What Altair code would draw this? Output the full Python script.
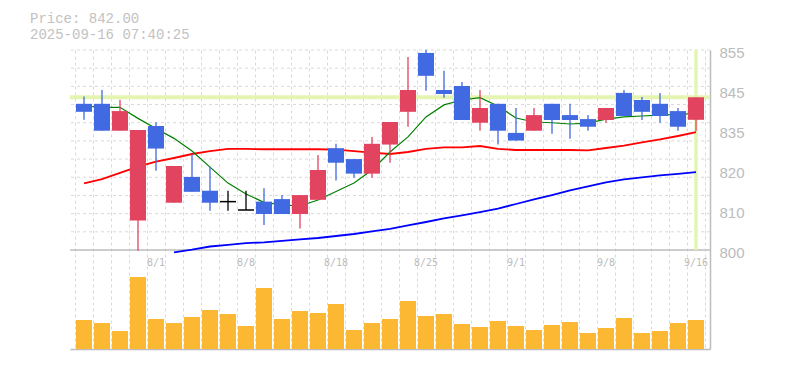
import altair as alt
import pandas as pd

# ---------------- data ----------------
header_lines = ["Price: 842.00", "2025-09-16 07:40:25"]
price_now = 842.0

dates = ["7/28", "7/29", "7/30", "7/31", "8/1", "8/4", "8/5", "8/6", "8/7", "8/8",
         "8/12", "8/13", "8/14", "8/15", "8/18", "8/19", "8/20", "8/21", "8/22",
         "8/25", "8/26", "8/27", "8/28", "8/29", "9/1", "9/2", "9/3", "9/4", "9/5",
         "9/8", "9/9", "9/10", "9/11", "9/12", "9/16"]

opens = [840.2, 840.2, 832.8, 808.1, 834.1, 813.0, 820.1, 816.3, 813.3, 811.0,
         813.3, 814.0, 809.9, 813.8, 828.0, 825.0, 821.0, 829.0, 838.0,
         854.2, 844.0, 845.1, 835.0, 840.2, 832.2, 832.8, 840.2, 837.1, 836.0,
         835.75, 843.2, 841.25, 840.2, 838.2, 835.8]
highs = [842.2, 844.0, 841.3, 833.0, 835.1, 823.1, 826.3, 822.9, 816.3, 816.3,
         817.0, 815.1, 815.1, 826.1, 829.2, 825.0, 831.1, 835.2, 853.1,
         855.1, 849.3, 846.2, 844.0, 840.2, 839.05, 839.05, 840.2, 840.2, 837.1,
         839.05, 844.0, 842.1, 843.2, 839.05, 842.0]
lows = [835.8, 832.8, 832.8, 799.8, 821.8, 813.0, 816.0, 810.8, 810.8, 811.0,
        806.9, 809.9, 805.9, 813.8, 819.1, 819.9, 819.9, 824.0, 833.9,
        843.8, 841.9, 835.75, 832.8, 829.0, 830.1, 832.8, 832.0, 830.6, 832.8,
        835.0, 836.85, 835.75, 835.0, 832.8, 832.7]
closes = [838.0, 832.8, 838.2, 833.0, 827.9, 823.1, 816.0, 813.0, 813.3, 811.0,
          809.9, 809.9, 815.1, 822.0, 824.0, 821.0, 829.2, 835.2, 844.0,
          847.9, 842.9, 835.75, 839.05, 832.8, 830.1, 837.1, 835.75, 835.75, 833.9,
          839.05, 836.85, 838.0, 836.85, 833.9, 842.0]

ma_short = [839.6, 839.24, 839.24, 836.2, 833.4, 830.7, 827.2, 822.8, 818.4, 815.4,
            813.1, 812.4, 812.1, 813.75, 816.1, 818.4, 822.0, 826.95, 831.1,
            836.6, 839.9, 841.25, 841.9, 839.6, 836.3, 835.2, 835.0, 834.65, 834.9,
            836.0, 836.6, 836.85, 837.1, 837.3, 837.5]
ma_mid = [818.3, 819.5, 821.2, 822.9, 824.3, 825.3, 826.4, 827.2, 827.8, 827.8,
          827.7, 827.7, 827.7, 827.7, 827.6, 827.2, 826.8, 826.4, 826.95,
          827.8, 828.2, 828.2, 828.6, 827.8, 827.5, 827.5, 827.5, 827.5, 827.4,
          828.05, 828.7, 829.6, 830.4, 831.35, 832.4]
ma_long = [None, None, None, None, None, 799.37, 800.1, 800.96, 801.4, 801.9,
           802.1, 802.5, 802.9, 803.3, 803.85, 804.4, 805.1, 805.8, 806.75,
           807.7, 808.7, 809.5, 810.4, 811.4, 812.65, 813.9, 815.1, 816.4, 817.5,
           818.6, 819.4, 820.0, 820.5, 820.95, 821.4]

volumes = [29, 26, 18, 72, 30, 26, 32, 39, 35, 23, 61, 30, 38, 36, 45, 19, 26, 30, 48,
           33, 35, 25, 22, 28, 23, 19, 24, 27, 16, 21, 31, 16, 18, 26, 29]

price_grid = [805, 810, 815, 820, 825, 830, 835, 840, 845, 850, 855]
price_ticks = [800, 811, 822, 833, 844, 855]
panel_low, panel_high = 800, 855

# ---------------- frames ----------------
n = len(dates)
df = pd.DataFrame({
    "i": list(range(n)), "date": dates, "open": opens, "high": highs,
    "low": lows, "close": closes, "vol": volumes,
    "ma_s": ma_short, "ma_m": ma_mid, "ma_l": ma_long,
})
df["dir"] = ["up" if c > o else ("down" if c < o else "flat") for o, c in zip(opens, closes)]
labels_df = df[df["i"] % 5 == 4]
flat_df = df[df["dir"] == "flat"]

W, H = 640, 299
px_per_unit = 200 / (panel_high - panel_low)
ydom = [panel_high - H / px_per_unit, panel_high]

GRID = "#d9d9d9"
AXIS = "#bdbdbd"
TEXT = "#bcbcbc"

xscale = alt.Scale(domain=[-0.5, n - 0.5], nice=False, zero=False)
yscale = alt.Scale(domain=ydom, nice=False, zero=False)
vscale = alt.Scale(domain=[0, H], nice=False, zero=True)

xaxis = alt.Axis(values=[k - 0.5 for k in range(n + 1)], grid=True, gridColor=GRID,
                 gridDash=[3, 3], gridWidth=1, ticks=False, labels=False,
                 domain=True, domainColor=AXIS, domainWidth=1.5, title=None)
yaxis = alt.Axis(orient="right", values=price_ticks,
                 labelExpr="format(round(datum.value/5)*5, 'd')",
                 grid=False, ticks=False, domain=True, domainColor=AXIS, domainWidth=1.5,
                 labelColor=TEXT, labelFont="Liberation Sans", labelFontSize=15,
                 labelPadding=9, labelOffset=2, labelBaseline="middle", title=None)

X = alt.X("i:Q", scale=xscale, axis=xaxis)
color = alt.Color("dir:N", scale=alt.Scale(domain=["up", "down", "flat"],
                                          range=["#e2435f", "#4169e1", "#000000"]),
                  legend=None)


def Y(field):
    return alt.Y(field, scale=yscale, axis=yaxis)


grid_h = alt.Chart(pd.DataFrame({"p": price_grid})).mark_rule(
    stroke=GRID, strokeDash=[3, 3], strokeWidth=1).encode(y=Y("p:Q"))
sep = alt.Chart(pd.DataFrame({"p": [panel_low]})).mark_rule(
    stroke=AXIS, strokeWidth=1.5).encode(y=Y("p:Q"))
hl_h = alt.Chart(pd.DataFrame({"p": [price_now]})).mark_rule(
    stroke="#e4f5b1", strokeWidth=4).encode(y=Y("p:Q"))
hl_v = alt.Chart(pd.DataFrame({"i": [n - 1], "lo": [panel_low], "hi": [panel_high]})).mark_rule(
    stroke="#e4f5b1", strokeWidth=3.5).encode(x=X, y=Y("lo:Q"), y2="hi:Q")

base = alt.Chart(df)
line_l = base.mark_line(color="#0000ff", strokeWidth=1.8).encode(x=X, y=Y("ma_l:Q"))
line_m = base.mark_line(color="#ff0000", strokeWidth=1.8).encode(x=X, y=Y("ma_m:Q"))
line_s = base.mark_line(color="#008000", strokeWidth=1.2).encode(x=X, y=Y("ma_s:Q"))
wicks = base.mark_rule(strokeWidth=1.3).encode(x=X, y=Y("low:Q"), y2="high:Q", color=color)
bodies = base.mark_bar(size=16).encode(x=X, y=Y("open:Q"), y2="close:Q", color=color)
doji = alt.Chart(flat_df).mark_rule(strokeWidth=1.5, color="#000000", xOffset=-8, x2Offset=8).encode(
    x=X, x2="i:Q", y=Y("close:Q"))

price = alt.layer(grid_h, sep, hl_h, hl_v, line_l, line_m, line_s, wicks, bodies, doji)

vol = base.mark_bar(size=16, color="#fdb833").encode(
    x=X, y=alt.Y("vol:Q", scale=vscale, axis=None))

date_txt = alt.Chart(labels_df).mark_text(
    font="DejaVu Sans Mono", fontSize=10, color=TEXT, align="center", baseline="alphabetic"
).encode(x=X, y=alt.value(215.5), text="date:N")

header = alt.Chart(pd.DataFrame({"t": ["\n".join(header_lines)]})).mark_text(
    font="Liberation Mono", fontSize=14, lineHeight=16.5, lineBreak="\n",
    color="#c2c2c2", align="left", baseline="alphabetic"
).encode(x=alt.value(-40), y=alt.value(-27.5), text="t:N")

chart = alt.layer(vol, price, date_txt, header).resolve_scale(y="independent").properties(
    width=W, height=H,
    autosize=alt.AutoSizeParams(type="none"),
    padding={"left": 62, "top": 42, "right": 60, "bottom": 10},
    background="white",
).configure_view(strokeWidth=0)

chart.save("out.html", embed_options={"renderer": "svg", "actions": False})
